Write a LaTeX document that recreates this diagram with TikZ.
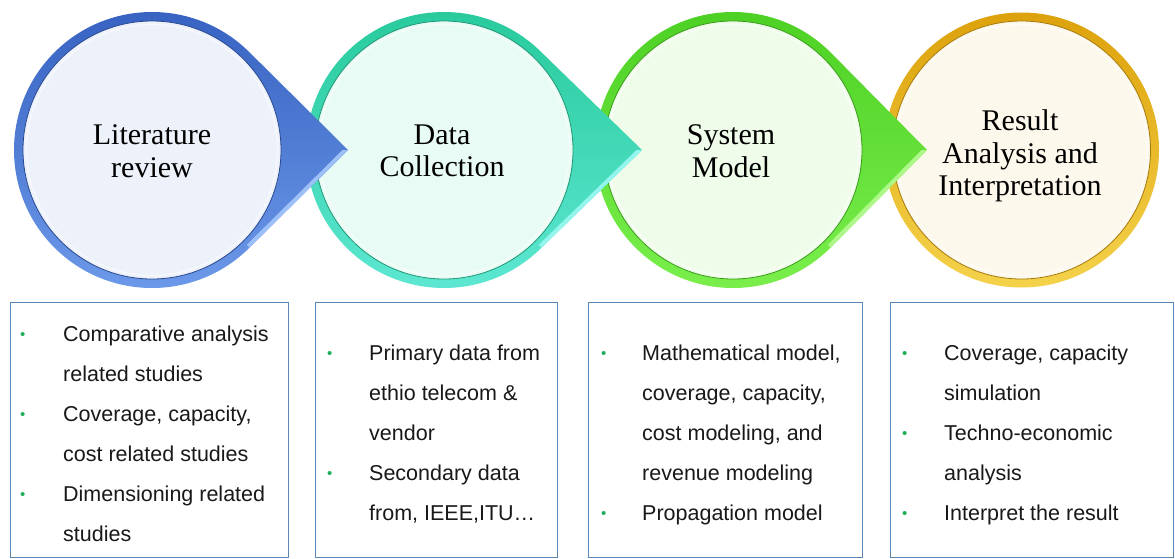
\documentclass[tikz,border=0pt]{standalone}
\usepackage{fontspec}
\setmainfont{Liberation Serif}
\newfontfamily\boxfont{Liberation Sans}
\usetikzlibrary{calc}
\definecolor{blueDark}{HTML}{3560C0}
\definecolor{blueMid}{HTML}{4774D2}
\definecolor{blueLight}{HTML}{6E9BEA}
\definecolor{blueInner}{HTML}{EDF1FA}
\definecolor{blueBevel}{HTML}{9EC0F8}
\definecolor{tealDark}{HTML}{26C99A}
\definecolor{tealMid}{HTML}{33DDB0}
\definecolor{tealLight}{HTML}{5FE8D4}
\definecolor{tealInner}{HTML}{E8FBF5}
\definecolor{tealBevel}{HTML}{92F5EE}
\definecolor{greenDark}{HTML}{4BCF22}
\definecolor{greenMid}{HTML}{5FE62E}
\definecolor{greenLight}{HTML}{7CF04E}
\definecolor{greenInner}{HTML}{EFFCE9}
\definecolor{greenBevel}{HTML}{ADF888}
\definecolor{goldDark}{HTML}{DDA20C}
\definecolor{goldMid}{HTML}{F1C232}
\definecolor{goldLight}{HTML}{F4D24A}
\definecolor{goldInner}{HTML}{FCF8EB}
\definecolor{boxLine}{HTML}{5B86B8}
\definecolor{bulGreen}{HTML}{1FAE5A}
\newcommand\bul{\textcolor{bulGreen}{\fontsize{15}{15}\selectfont\raisebox{1.5pt}{•}}}
% #1 centre x, #2 tip x, #3 dark, #4 mid, #5 light, #6 inner, #7 bevel
\newcommand\drawstage[7]{%
  \shade[top color=#3, middle color=#4, bottom color=#5]
    (#1,150) ++(45:138) arc[start angle=45,end angle=315,radius=138] -- (#2,150) -- cycle;
  \fill[#7] (#2,150) -- ($(#1,150)+(45:138)$) -- ($(#1,150)+(45:138)+(-2.8,-2.8)$) -- (#2-5.5,150) -- cycle;
  \fill[#6] (#1,150) circle (129);
  \draw[#3!75!black, line width=0.8pt] (#1,150) circle (129);
  \draw[white, line width=1.2pt, opacity=0.6] (#1,150) circle (125.5);
}
\tikzset{
  circtext/.style={font=\fontsize{30}{32.5}\selectfont, align=center, inner sep=0pt, text=black},
  infobox/.style={draw=boxLine, line width=1pt, fill=white, anchor=north west, inner sep=0pt, minimum height=255pt},
  infotext/.style={anchor=north west, inner sep=0pt, font=\boxfont\fontsize{21.5}{40}\selectfont, text=black!90}
}
\begin{document}
\begin{tikzpicture}[x=1pt,y=-1pt]
\fill[white] (0,0) rectangle (1175,558);
\useasboundingbox (0,0) rectangle (1175,558);
% stage 4 (no pointer)
\shade[top color=goldDark, middle color=goldMid, bottom color=goldLight] (1021.5,150) circle (137.5);
\fill[goldInner] (1021.5,150) circle (129);
\draw[goldDark!75!black, line width=0.8pt] (1021.5,150) circle (129);
\draw[white, line width=1.2pt, opacity=0.6] (1021.5,150) circle (125.5);
\drawstage{733}{927}{greenDark}{greenMid}{greenLight}{greenInner}{greenBevel}
\drawstage{444}{642}{tealDark}{tealMid}{tealLight}{tealInner}{tealBevel}
\drawstage{152}{348}{blueDark}{blueMid}{blueLight}{blueInner}{blueBevel}
% circle labels
\node[circtext] (l1) at (152,151) {Literature\\review};
\node[circtext] (l2) at (442,151) {Data\\Collection};
\node[circtext] (l3) at (731,151) {System\\Model};
\node[circtext] (l4) at (1020,156) {Result\\Analysis and\\Interpretation};
% boxes
\node[infobox, minimum width=278pt] (b1) at (10,302) {};
\node[infobox, minimum width=242pt] (b2) at (315,302) {};
\node[infobox, minimum width=274pt] (b3) at (588,302) {};
\node[infobox, minimum width=283pt] (b4) at (890,302) {};
\node[infotext] (t1) at (20,313) {\begin{tabular}{@{}p{43pt}@{}l@{}}
\bul & Comparative analysis\\
 & related studies\\
\bul & Coverage, capacity,\\
 & cost related studies\\
\bul & Dimensioning related\\
 & studies
\end{tabular}};
\node[infotext] (t2) at (327,332) {\begin{tabular}{@{}p{42pt}@{}l@{}}
\bul & Primary data from\\
 & ethio telecom \&\\
 & vendor\\
\bul & Secondary data\\
 & from, IEEE,ITU…
\end{tabular}};
\node[infotext] (t3) at (601,332) {\begin{tabular}{@{}p{41pt}@{}l@{}}
\bul & Mathematical model,\\
 & coverage, capacity,\\
 & cost modeling, and\\
 & revenue modeling\\
\bul & Propagation model
\end{tabular}};
\node[infotext] (t4) at (902,332) {\begin{tabular}{@{}p{42pt}@{}l@{}}
\bul & Coverage, capacity\\
 & simulation\\
\bul & Techno-economic\\
 & analysis\\
\bul & Interpret the result
\end{tabular}};
\end{tikzpicture}
\end{document}
